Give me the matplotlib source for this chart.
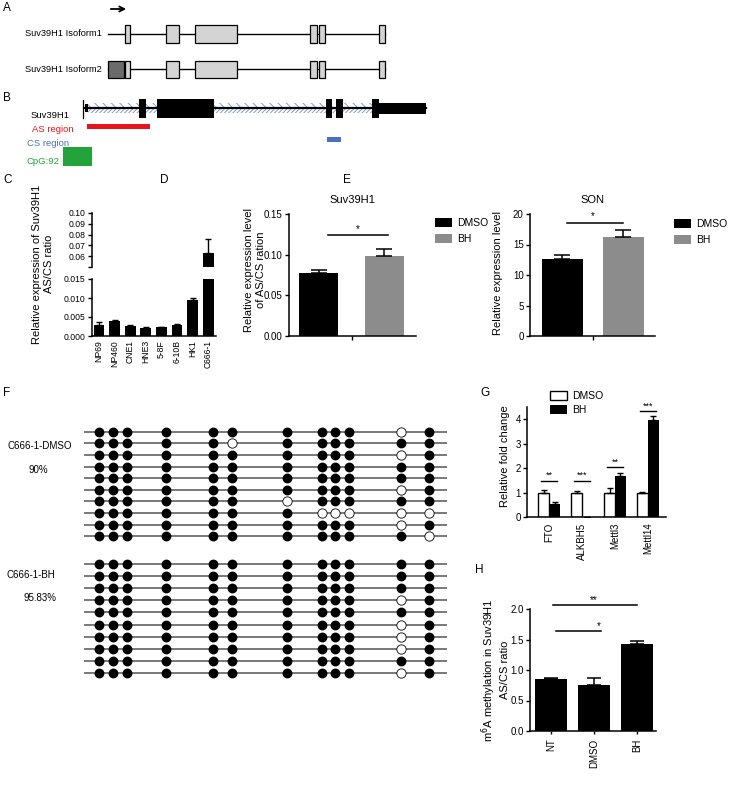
import matplotlib
matplotlib.use("Agg")
import matplotlib.pyplot as plt
from matplotlib.patches import Rectangle
import numpy as np

plt.rcParams['font.family'] = ['Liberation Sans', 'DejaVu Sans']
plt.rcParams['axes.linewidth'] = 1.1
plt.rcParams['xtick.major.width'] = 1.0
plt.rcParams['ytick.major.width'] = 1.0
plt.rcParams['xtick.major.size'] = 3
plt.rcParams['ytick.major.size'] = 3
plt.rcParams['xtick.major.pad'] = 1.5
plt.rcParams['ytick.major.pad'] = 1.5
plt.rcParams['xtick.labelsize'] = 7
plt.rcParams['ytick.labelsize'] = 7
plt.rcParams['hatch.linewidth'] = 0.7

# ---- data ----
# A: isoform exons (relative position units)
iso_span = (108, 385)
iso_exons = [(125, 130), (166, 179), (195, 237), (310, 317), (319, 325), (379, 385)]
iso2_first_exon = (108, 124)
# B: Suv39H1 gene track
gene_span = (85, 426)
gene_exons = [(139, 146), (157, 214), (326, 332), (336, 343), (372, 379)]
gene_utr3 = (379, 426)
as_region = (87, 150)
cs_region = (327, 341)
cpg_island = (63, 92)

# C
cells = ['NP69', 'NP460', 'CNE1', 'HNE3', '5-8F', '6-10B', 'HK1', 'C666-1']
c_ratio = [0.0030, 0.0039, 0.0027, 0.0022, 0.0024, 0.0030, 0.0095, 0.0630]
c_err = [0.0006, 0.0002, 0.0001, 0.0001, 0.0001, 0.0002, 0.0006, 0.0130]

# D / E
treat = ['DMSO', 'BH']
d_mean = [0.077, 0.098]
d_err = [0.004, 0.009]
e_mean = [12.7, 16.2]
e_err = [0.5, 1.1]

# F: bisulfite sequencing, 12 CpG sites x 10 clones
cpg_pos = [15, 29, 43, 82, 129, 148, 203, 238, 251, 265, 317, 345]
frag_len = 363
dmso_unmeth = [(0, 10), (1, 5), (2, 10), (5, 10), (6, 6), (7, 7), (7, 8), (7, 9),
               (7, 10), (7, 11), (8, 10), (9, 11)]
bh_unmeth = [(3, 10), (5, 10), (6, 10), (7, 10), (9, 10)]
n_clones = 10

# G
genes = ['FTO', 'ALKBH5', 'Mettl3', 'Mettl14']
g_dmso = [1.0, 1.0, 1.0, 1.0]
g_dmso_err = [0.12, 0.06, 0.18, 0.04]
g_bh = [0.55, 0.02, 1.68, 3.97]
g_bh_err = [0.06, 0.0, 0.10, 0.15]
g_sig = ['**', '***', '**', '***']
g_sig_y = [1.47, 1.47, 2.04, 4.33]

# H
h_groups = ['NT', 'DMSO', 'BH']
h_mean = [0.85, 0.76, 1.43]
h_err = [0.02, 0.11, 0.05]

W, H = 729, 785
fig = plt.figure(figsize=(W / 100, H / 100), dpi=100)


def box(x0, y0, x1, y1):
    return [x0 / W, 1 - y1 / H, (x1 - x0) / W, (y1 - y0) / H]


def prism(ax):
    ax.spines['top'].set_visible(False)
    ax.spines['right'].set_visible(False)
    ax.patch.set_alpha(0)


ov = fig.add_axes([0, 0, 1, 1])
ov.set_xlim(0, W)
ov.set_ylim(H, 0)
ov.axis('off')

for lab, x, y in [('A', 3, 8), ('B', 3, 98), ('C', 3, 180), ('D', 160, 180), ('E', 343, 180),
                  ('F', 3, 393), ('G', 480, 393), ('H', 475, 570)]:
    ov.text(x, y, lab, fontsize=8.5, ha='left', va='center')

# ---- A ----
ov.annotate('', xy=(129, 9), xytext=(108, 9),
            arrowprops=dict(arrowstyle='->', lw=1.3, color='black', mutation_scale=9))
for yc, hh, label in [(34, 9, 'Suv39H1 Isoform1'), (69, 8.5, 'Suv39H1 Isoform2')]:
    ov.plot(iso_span, [yc, yc], color='black', lw=1.0, zorder=1)
    for s, e in iso_exons:
        ov.add_patch(Rectangle((s, yc - hh), e - s, 2 * hh, fc='#d4d4d4', ec='black', lw=0.9, zorder=2))
    ov.text(102, yc, label, fontsize=6.7, ha='right', va='center')
s, e = iso2_first_exon
ov.add_patch(Rectangle((s, 69 - 8.5), e - s, 17, fc='#6b6b6b', ec='black', lw=0.9, zorder=2))

# ---- B ----
gy = 108
ov.add_patch(Rectangle((88, gy - 5), 284, 5, fill=False, hatch='\\\\\\\\', ec='#7f9ccc', lw=0, zorder=1))
ov.add_patch(Rectangle((88, gy), 284, 5, fill=False, hatch='////////', ec='#7f9ccc', lw=0, zorder=1))
ov.plot(gene_span, [gy, gy], color='black', lw=1.6, zorder=2)
ov.plot([83, 83], [100, 118], color='black', lw=0.9, zorder=2)
ov.add_patch(Rectangle((85, gy - 4), 3, 8, fc='black', ec='none', zorder=3))
for s, e in gene_exons:
    ov.add_patch(Rectangle((s, gy - 9.5), e - s, 19, fc='black', ec='none', zorder=3))
s, e = gene_utr3
ov.add_patch(Rectangle((s, gy - 5.5), e - s, 11, fc='black', ec='none', zorder=3))
ov.text(70, 115, 'Suv39H1', fontsize=6.8, ha='right', va='center')
ov.add_patch(Rectangle((as_region[0], 124), as_region[1] - as_region[0], 4.5, fc='#e8141b', ec='none'))
ov.text(32, 130, 'AS region', fontsize=6.8, color='#e8141b', ha='left', va='center')
ov.add_patch(Rectangle((cs_region[0], 137), cs_region[1] - cs_region[0], 5, fc='#4a72b8', ec='none'))
ov.text(27, 143, 'CS region', fontsize=6.8, color='#4a72b8', ha='left', va='center')
ov.add_patch(Rectangle((cpg_island[0], 147), cpg_island[1] - cpg_island[0], 19, fc='#22a33b', ec='none'))
ov.text(27, 162, 'CpG:92', fontsize=6.8, color='#22a33b', ha='left', va='center')

# ---- C (broken axis) ----
xc = np.arange(len(cells))
axCt = fig.add_axes(box(92, 213, 216, 267))
axCb = fig.add_axes(box(92, 279, 216, 336))
for ax in (axCt, axCb):
    prism(ax)
    ax.bar(xc, c_ratio, width=0.7, color='black')
    ax.errorbar(xc, c_ratio, yerr=[np.zeros(len(cells)), c_err], fmt='none',
                ecolor='black', elinewidth=1.0, capsize=2.5, capthick=1.0)
    ax.set_xlim(-0.45, 7.5)
    ax.tick_params(labelsize=6.2)
axCt.set_ylim(0.05, 0.10)
axCt.spines['bottom'].set_visible(False)
axCt.set_xticks([])
axCt.set_yticks([0.05, 0.06, 0.07, 0.08, 0.09, 0.10])
axCt.set_yticklabels(['', '0.06', '0.07', '0.08', '0.09', '0.10'])
axCb.set_ylim(0, 0.015)
axCb.set_yticks([0, 0.005, 0.010, 0.015])
axCb.set_yticklabels(['0.000', '0.005', '0.010', '0.015'])
axCb.set_xticks(xc)
axCb.set_xticklabels(cells, rotation=90)
axCb.tick_params(axis='x', length=0, pad=3)
ov.text(43, 264, 'Relative expression of Suv39H1\nAS/CS ratio', rotation=90,
        fontsize=8, ha='center', va='center', linespacing=1.2)

# ---- D ----
axD = fig.add_axes(box(289, 214, 416, 336))
prism(axD)
axD.bar([0, 1], d_mean, width=0.6, color=['black', '#8c8c8c'])
axD.errorbar([0, 1], d_mean, yerr=[[0, 0], d_err], fmt='none', ecolor='black',
             elinewidth=1.1, capsize=6, capthick=1.1)
axD.set_xlim(-0.45, 1.48)
axD.set_ylim(0, 0.15)
axD.set_yticks([0, 0.05, 0.10, 0.15])
axD.set_yticklabels(['0.00', '0.05', '0.10', '0.15'])
axD.set_xticks([0.5])
axD.set_xticklabels([''])
axD.plot([0.15, 1.05], [0.124, 0.124], color='black', lw=1.1, clip_on=False)
axD.text(0.6, 0.131, '*', fontsize=7, ha='center', va='center')
axD.set_title('Suv39H1', fontsize=8, pad=8)
ov.text(255, 270, 'Relative expression level\nof AS/CS ration', rotation=90,
        fontsize=8, ha='center', va='center', linespacing=1.15)
axD.legend(handles=[Rectangle((0, 0), 1, 1, fc='black'), Rectangle((0, 0), 1, 1, fc='#8c8c8c')],
           labels=treat, loc='upper left', bbox_to_anchor=(430 / W, 1 - 213 / H),
           bbox_transform=fig.transFigure, frameon=False, fontsize=7.5, borderpad=0,
           handlelength=1.6, handleheight=0.9, handletextpad=0.5, labelspacing=0.55)

# ---- E ----
axE = fig.add_axes(box(530, 214, 655, 336))
prism(axE)
axE.bar([0, 1], e_mean, width=0.67, color=['black', '#8c8c8c'])
axE.errorbar([0, 1], e_mean, yerr=[[0, 0], e_err], fmt='none', ecolor='black',
             elinewidth=1.1, capsize=6, capthick=1.1)
axE.set_xlim(-0.53, 1.52)
axE.set_ylim(0, 20)
axE.set_yticks([0, 5, 10, 15, 20])
axE.set_xticks([0.5])
axE.set_xticklabels([''])
axE.plot([0.08, 1.0], [18.5, 18.5], color='black', lw=1.1, clip_on=False)
axE.text(0.5, 19.6, '*', fontsize=7, ha='center', va='center')
axE.set_title('SON', fontsize=8, pad=8)
ov.text(498, 273, 'Relative expression level', rotation=90, fontsize=8, ha='center', va='center')
axE.legend(handles=[Rectangle((0, 0), 1, 1, fc='black'), Rectangle((0, 0), 1, 1, fc='#8c8c8c')],
           labels=treat, loc='upper left', bbox_to_anchor=(669 / W, 1 - 214 / H),
           bbox_transform=fig.transFigure, frameon=False, fontsize=7.5, borderpad=0,
           handlelength=1.6, handleheight=0.9, handletextpad=0.5, labelspacing=0.55)

# ---- F ----
for (y0, y1, unmeth) in [(426, 542, dmso_unmeth), (558, 679, bh_unmeth)]:
    axF = fig.add_axes(box(84, y0, 447, y1))
    axF.set_xlim(0, frag_len)
    axF.set_ylim(n_clones - 0.5, -0.5)
    axF.axis('off')
    meth = np.ones((n_clones, len(cpg_pos)), dtype=bool)
    for r, c in unmeth:
        meth[r, c] = False
    xs = np.array(cpg_pos)
    for r in range(n_clones):
        axF.plot([0, frag_len], [r, r], color='#555555', lw=1.1, zorder=1)
        axF.scatter(xs[meth[r]], [r] * meth[r].sum(), s=50, c='black', zorder=2, linewidths=0)
        axF.scatter(xs[~meth[r]], [r] * (~meth[r]).sum(), s=45, facecolors='white',
                    edgecolors='black', linewidths=0.6, zorder=2)
ov.text(40, 446, 'C666-1-DMSO', fontsize=7, ha='center', va='center')
ov.text(38, 470, '90%', fontsize=7, ha='center', va='center')
ov.text(31, 575, 'C666-1-BH', fontsize=7, ha='center', va='center')
ov.text(40, 598, '95.83%', fontsize=7, ha='center', va='center')

# ---- G ----
axG = fig.add_axes(box(527, 407, 666, 517))
prism(axG)
xg = np.arange(len(genes))
bw = 0.33
axG.bar(xg - bw / 2, g_dmso, width=bw, color='white', edgecolor='black', linewidth=1.0)
axG.bar(xg + bw / 2, g_bh, width=bw, color='black')
axG.errorbar(xg - bw / 2, g_dmso, yerr=[np.zeros(4), g_dmso_err], fmt='none', ecolor='black',
             elinewidth=1.0, capsize=2.5, capthick=1.0)
axG.errorbar(xg + bw / 2, g_bh, yerr=[np.zeros(4), g_bh_err], fmt='none', ecolor='black',
             elinewidth=1.0, capsize=2.5, capthick=1.0)
for i in range(len(genes)):
    axG.plot([i - bw / 2 - 0.08, i + bw / 2 + 0.08], [g_sig_y[i], g_sig_y[i]], color='black', lw=1.0, clip_on=False)
    axG.text(i, g_sig_y[i] + 0.22, g_sig[i], fontsize=6.5, ha='center', va='center')
axG.set_xlim(-0.67, 3.55)
axG.set_ylim(0, 4.5)
axG.set_yticks([0, 1, 2, 3, 4])
axG.set_xticks(xg)
axG.set_xticklabels(genes, rotation=90)
axG.tick_params(axis='x', length=0, pad=4)
ov.text(505, 456, 'Relative fold change', rotation=90, fontsize=8, ha='center', va='center')
axG.legend(handles=[Rectangle((0, 0), 1, 1, fc='white', ec='black', lw=1.0),
                    Rectangle((0, 0), 1, 1, fc='black')],
           labels=treat, loc='upper left', bbox_to_anchor=(545 / W, 1 - 386 / H),
           bbox_transform=fig.transFigure, frameon=False, fontsize=7.5, borderpad=0,
           handlelength=1.6, handleheight=0.9, handletextpad=0.5, labelspacing=0.35)

# ---- H ----
axH = fig.add_axes(box(530, 609, 656, 731))
prism(axH)
xh = np.arange(len(h_groups))
axH.bar(xh, h_mean, width=0.76, color='black')
axH.errorbar(xh, h_mean, yerr=[np.zeros(3), h_err], fmt='none', ecolor='black',
             elinewidth=1.1, capsize=5, capthick=1.1)
axH.set_xlim(-0.49, 2.44)
axH.set_ylim(0, 2.0)
axH.set_yticks([0, 0.5, 1.0, 1.5, 2.0])
axH.set_xticks(xh)
axH.set_xticklabels(h_groups, rotation=90)
axH.tick_params(axis='x', length=2.5, pad=3)
axH.plot([0.12, 1.15], [1.64, 1.64], color='black', lw=1.1, clip_on=False)
axH.text(1.1, 1.72, '*', fontsize=7, ha='center', va='center')
axH.plot([0.05, 2.0], [2.06, 2.06], color='black', lw=1.1, clip_on=False)
axH.text(1.0, 2.15, '**', fontsize=7, ha='center', va='center')
ov.text(495, 670, 'm$^6$A methylation in Suv39H1\nAS/CS ratio', rotation=90,
        fontsize=8, ha='center', va='center', linespacing=1.2)

fig.savefig('out.png', dpi=100)
